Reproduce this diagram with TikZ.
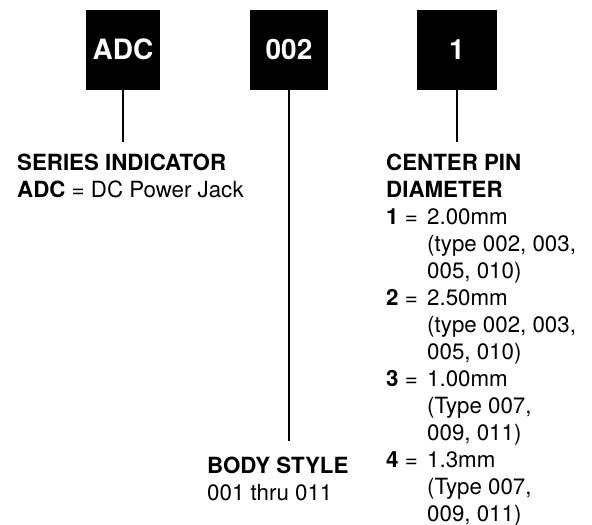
\documentclass[tikz,border=0pt]{standalone}
\usepackage{fontspec}
\setmainfont{TeX Gyre Heros}
\newcommand\lblfont{\fontsize{22.3}{27}\selectfont}
\begin{document}
\begin{tikzpicture}[x=1pt,y=-1pt,
  codebox/.style={fill=black, text=white, font=\fontsize{28}{32}\selectfont\bfseries,
    inner sep=0pt, anchor=north, minimum height=80pt},
  stem/.style={line width=2.2pt},
  lbl/.style={anchor=base west, inner sep=0pt, font=\lblfont}]
\useasboundingbox[fill=white] (0,0) rectangle (592,525);
\node[codebox, minimum width=74pt] (adc) at (123,9.5) {ADC};
\node[codebox, minimum width=78pt] (body) at (289,9.5) {002};
\node[codebox, minimum width=80pt] (pin) at (457,9.5) {1};
\coordinate (adcend) at (adc.south |- 0,142);
\coordinate (bodyend) at (body.south |- 0,441);
\coordinate (pinend) at (pin.south |- 0,142);
\draw[stem] (adc.south) -- (adcend);
\draw[stem] (body.south) -- (bodyend);
\draw[stem] (pin.south) -- (pinend);
\node[lbl] (serieslbl) at (17,170) {\begin{tabular}[t]{@{}l@{}}
\textbf{SERIES INDICATOR}\\
\textbf{ADC} = DC Power Jack
\end{tabular}};
\node[lbl] (bodylbl) at (207,473) {\begin{tabular}[t]{@{}l@{}}
\textbf{BODY STYLE}\\
001 thru 011
\end{tabular}};
\node[lbl] (pinlbl) at (386,170) {\begin{tabular}[t]{@{}l@{\hspace{9.4pt}}l@{}}
\multicolumn{2}{@{}l@{}}{\textbf{CENTER PIN}}\\
\multicolumn{2}{@{}l@{}}{\textbf{DIAMETER}}\\
\textbf{1} = & 2.00mm\\
 & (type 002, 003,\\
 & 005, 010)\\
\textbf{2} = & 2.50mm\\
 & (type 002, 003,\\
 & 005, 010)\\
\textbf{3} = & 1.00mm\\
 & (Type 007,\\
 & 009, 011)\\
\textbf{4} = & 1.3mm\\
 & (Type 007,\\
 & 009, 011)
\end{tabular}};
\end{tikzpicture}
\end{document}
